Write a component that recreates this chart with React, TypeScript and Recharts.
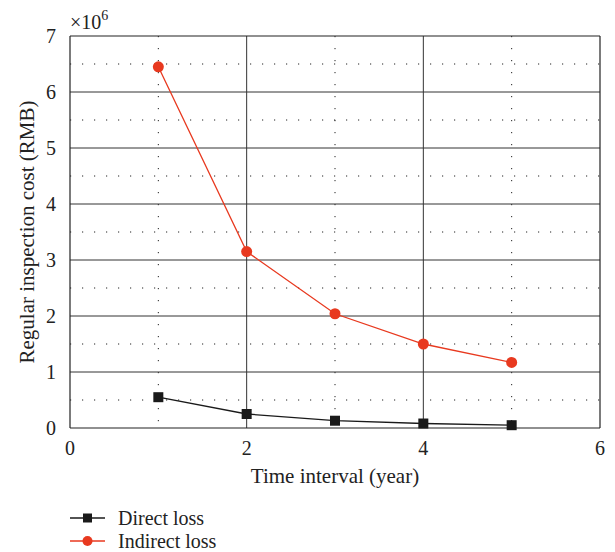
import { LineChart, Line, XAxis, YAxis, CartesianGrid, ReferenceLine } from "recharts";

const years = [1, 2, 3, 4, 5];
const directLoss = [0.55e6, 0.25e6, 0.13e6, 0.08e6, 0.05e6];
const indirectLoss = [6.45e6, 3.15e6, 2.04e6, 1.5e6, 1.17e6];
const xTicks = [0, 2, 4, 6];
const yTicks = [0, 1, 2, 3, 4, 5, 6, 7];
const xMajorGrid = [2, 4];
const xMinorGrid = [1, 3, 5];
const yMajorGrid = [1, 2, 3, 4, 5, 6];
const yMinorGrid = [0.5, 1.5, 2.5, 3.5, 4.5, 5.5, 6.5];

const data = years.map((x, i) => ({
  x,
  direct: directLoss[i] / 1e6,
  indirect: indirectLoss[i] / 1e6,
}));

const FONT = "'Liberation Serif', 'DejaVu Serif', serif";
const RED = "#e8391f";

const SquareDot = (props: any) => {
  const { cx, cy } = props;
  if (cx == null || cy == null) return null;
  return <rect x={cx - 5} y={cy - 5} width={10} height={10} fill="#1a1a1a" />;
};

export default function App() {
  return (
    <div style={{ position: "absolute", left: 0, top: 0, width: 615, height: 552, background: "#fff", fontFamily: FONT }}>
      <LineChart width={615} height={552} data={data} margin={{ top: 36, right: 15, left: 0, bottom: 0 }}>
        <CartesianGrid
          horizontalValues={yMinorGrid}
          verticalValues={xMinorGrid}
          stroke="#222"
          strokeDasharray="1.2 10.8"
        />
        <CartesianGrid horizontalValues={yMajorGrid} verticalValues={xMajorGrid} stroke="#333" strokeWidth={1} />
        <XAxis
          dataKey="x"
          type="number"
          domain={[0, 6]}
          ticks={xTicks}
          height={124}
          tickLine={false}
          axisLine={{ stroke: "#222", strokeWidth: 1.2 }}
          tick={{ fill: "#222", fontSize: 20, fontFamily: FONT }}
          tickMargin={7}
          label={{ value: "Time interval (year)", position: "insideTop", offset: 40, fill: "#222", fontSize: 21, fontFamily: FONT }}
        />
        <YAxis
          type="number"
          domain={[0, 7]}
          ticks={yTicks}
          width={70}
          tickLine={false}
          axisLine={{ stroke: "#222", strokeWidth: 1.2 }}
          tick={{ fill: "#222", fontSize: 20, fontFamily: FONT }}
          tickMargin={8}
          label={{
            value: "Regular inspection cost (RMB)",
            angle: -90,
            position: "insideLeft",
            offset: 0,
            dx: 27,
            style: { textAnchor: "middle" },
            fill: "#222",
            fontSize: 21,
            fontFamily: FONT,
          }}
        />
        <ReferenceLine y={7} stroke="#222" strokeWidth={1.2} />
        <ReferenceLine x={6} stroke="#222" strokeWidth={1.2} />
        <Line
          type="linear"
          dataKey="direct"
          stroke="#1a1a1a"
          strokeWidth={1.3}
          dot={<SquareDot />}
          isAnimationActive={false}
        />
        <Line
          type="linear"
          dataKey="indirect"
          stroke={RED}
          strokeWidth={1.3}
          dot={{ r: 5.5, fill: RED, stroke: RED, strokeWidth: 0 }}
          isAnimationActive={false}
        />
      </LineChart>
      <div style={{ position: "absolute", left: 70, top: 2, fontSize: 20, color: "#222", lineHeight: "30px" }}>
        ×10<sup style={{ fontSize: 14, position: "relative", top: -1 }}>6</sup>
      </div>
      <div style={{ position: "absolute", left: 68, top: 508, height: 20, display: "flex", alignItems: "center", fontSize: 20, color: "#222" }}>
        <svg width={40} height={20}>
          <line x1={2} x2={37} y1={10} y2={10} stroke="#1a1a1a" strokeWidth={1.3} />
          <rect x={15} y={5.5} width={9} height={9} fill="#1a1a1a" />
        </svg>
        <span style={{ marginLeft: 10, lineHeight: "20px" }}>Direct loss</span>
      </div>
      <div style={{ position: "absolute", left: 68, top: 531, height: 20, display: "flex", alignItems: "center", fontSize: 20, color: "#222" }}>
        <svg width={40} height={20}>
          <line x1={2} x2={37} y1={10} y2={10} stroke={RED} strokeWidth={1.3} />
          <circle cx={19.5} cy={10} r={5} fill={RED} />
        </svg>
        <span style={{ marginLeft: 10, lineHeight: "20px" }}>Indirect loss</span>
      </div>
    </div>
  );
}
